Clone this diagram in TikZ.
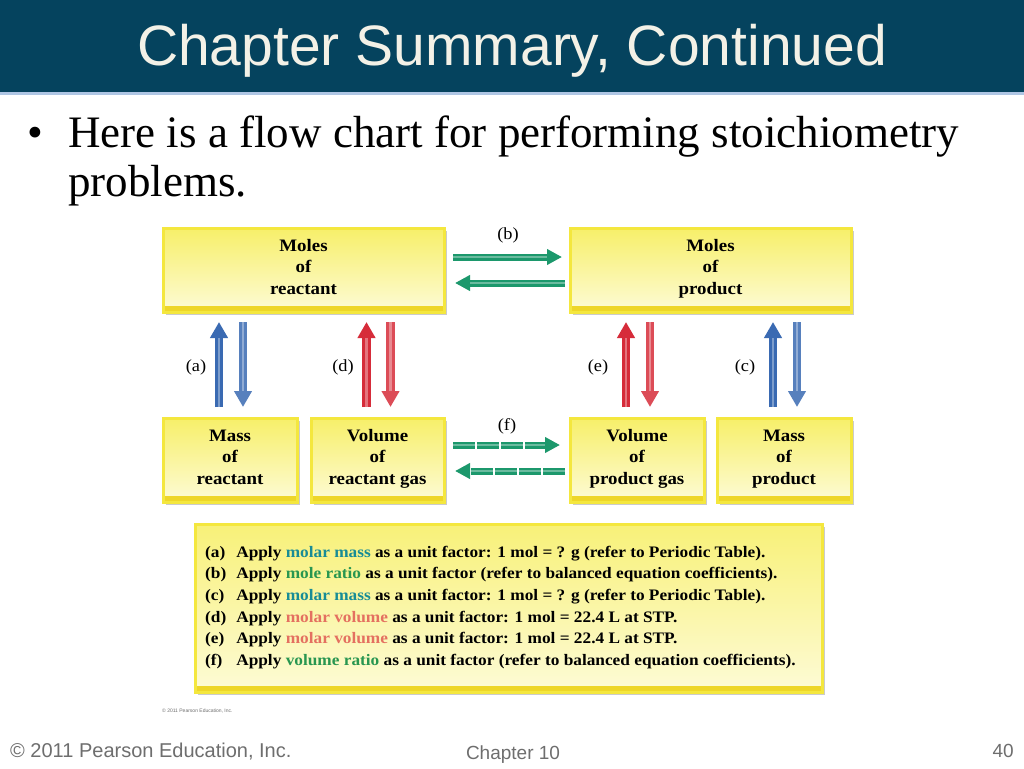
\documentclass[tikz,border=0pt]{standalone}
\usepackage{fontspec}
\setmainfont{Liberation Serif}
\newfontfamily\headfont{Liberation Sans}
\newfontfamily\boxfont[FakeStretch=1.08]{Liberation Serif}
\usetikzlibrary{arrows.meta}
\usetikzlibrary{shadows}
\usetikzlibrary{calc}
\usetikzlibrary{positioning}

\definecolor{band}{RGB}{5,67,94}
\definecolor{bandline}{RGB}{175,198,228}
\definecolor{titletext}{RGB}{243,241,231}
\definecolor{yedge}{RGB}{244,231,62}
\definecolor{ytop}{RGB}{247,239,105}
\definecolor{ybot}{RGB}{253,251,214}
\definecolor{yband}{RGB}{238,214,40}
\definecolor{arrblue}{RGB}{58,106,178}
\definecolor{arrred}{RGB}{214,44,58}
\definecolor{arrgreen}{RGB}{28,152,108}
\definecolor{txtmass}{RGB}{24,140,150}
\definecolor{txtmole}{RGB}{40,150,80}
\definecolor{txtvol}{RGB}{228,112,96}
\definecolor{footgray}{RGB}{110,110,110}

\begin{document}
\begin{tikzpicture}[x=1pt, y=-1pt,
    ybox/.style={inner sep=0pt, outer sep=0pt, align=center,
      minimum height=84pt, top color=ytop, bottom color=ybot,
      draw=yedge, line width=3pt,
      font=\boxfont\bfseries\fontsize{17.5}{21.5}\selectfont,
      execute at begin node=\strut, execute at end node=\strut,
      drop shadow={shadow xshift=3pt, shadow yshift=-3pt, fill=black!45, opacity=.45},
      path picture={\fill[yband] (path picture bounding box.south west)
        rectangle ([yshift=6pt]path picture bounding box.south east);}},
    lab/.style={font=\boxfont\fontsize{17}{20}\selectfont},
    varr/.style={line width=8.5pt, -{Triangle[length=16pt,width=17pt]},
      postaction={draw=white, draw opacity=.35, line width=2.5pt, -, shorten >=16pt}},
    harr/.style={line width=7pt, -{Triangle[length=15pt,width=15pt]},
      postaction={draw=white, draw opacity=.35, line width=2pt, -, shorten >=15pt}},
    dasharr/.style={harr, dash pattern=on 22pt off 2pt},
    bultext/.style={anchor=base west, font=\fontsize{45}{50}\selectfont, inner sep=0pt},
    foot/.style={font=\headfont\fontsize{19}{22}\selectfont, text=footgray, inner sep=0pt}]
  \useasboundingbox (0,0) rectangle (1024,768);
  \fill[white] (0,0) rectangle (1024,768);

  % title band
  \fill[band] (0,0) rectangle (1024,92);
  \fill[bandline] (0,92) rectangle (1024,94.5);
  \node[font=\headfont\fontsize{57}{60}\selectfont, text=titletext] (title) at (512,51)
    {Chapter Summary, Continued};

  \node[bultext] (bul) at (27,147) {\textbullet};
  \node[bultext] (line1) at (68,147) {Here is a flow chart for performing stoichiometry};
  \node[bultext] (line2) at (68,196) {problems.};

  % boxes
  \node[ybox, minimum width=281pt] (mr) at (303.5,270) {Moles\\of\\reactant};
  \node[ybox, minimum width=281pt] (mp) at (710.5,270) {Moles\\of\\product};
  \node[ybox, minimum width=134pt] (mreac) at (230,460) {Mass\\of\\reactant};
  \node[ybox, minimum width=133pt] (vreac) at (377.5,460) {Volume\\of\\reactant gas};
  \node[ybox, minimum width=134pt] (vprod) at (637,460) {Volume\\of\\product gas};
  \node[ybox, minimum width=134pt] (mprod) at (784,460) {Mass\\of\\product};

  % (b) and (f)
  \draw[harr, arrgreen] ($(mr.north east)+(9,29)$) -- ($(mp.north west)+(-8,29)$);
  \draw[harr, arrgreen] ($(mp.north west)+(-5,55)$) -- ($(mr.north east)+(11,55)$);
  \draw[dasharr, arrgreen] ($(vreac.north east)+(9,27)$) -- ($(vprod.north west)+(-10,27)$);
  \draw[dasharr, arrgreen] ($(vprod.north west)+(-5,53)$) -- ($(vreac.north east)+(11,53)$);
  \node[lab] (lb) at (508,235) {(b)};
  \node[lab] (lf) at (507,426) {(f)};

  % (a) (d) (e) (c)
  \draw[varr, arrblue] ($(mreac.north)+(-11,-11)$) -- ($(mreac.north |- mr.south)+(-11,10)$);
  \draw[varr, arrblue!85] ($(mreac.north |- mr.south)+(13,10)$) -- ($(mreac.north)+(13,-11)$);
  \draw[varr, arrred] ($(vreac.north)+(-11,-11)$) -- ($(vreac.north |- mr.south)+(-11,10)$);
  \draw[varr, arrred!85] ($(vreac.north |- mr.south)+(13,10)$) -- ($(vreac.north)+(13,-11)$);
  \draw[varr, arrred] ($(vprod.north)+(-11,-11)$) -- ($(vprod.north |- mp.south)+(-11,10)$);
  \draw[varr, arrred!85] ($(vprod.north |- mp.south)+(13,10)$) -- ($(vprod.north)+(13,-11)$);
  \draw[varr, arrblue] ($(mprod.north)+(-11,-11)$) -- ($(mprod.north |- mp.south)+(-11,10)$);
  \draw[varr, arrblue!85] ($(mprod.north |- mp.south)+(13,10)$) -- ($(mprod.north)+(13,-11)$);
  \node[lab] (la) at (196,367) {(a)};
  \node[lab] (ld) at (343,367) {(d)};
  \node[lab] (le) at (598,367) {(e)};
  \node[lab] (lc) at (745,367) {(c)};

  % key
  \node[ybox, minimum width=627pt, minimum height=168pt, top color=ytop!90, bottom color=ybot] (key) at (508.5,608) {};
  \node[anchor=west, inner sep=0pt, font=\boxfont\bfseries\fontsize{16}{21.6}\selectfont] (keytxt) at (205,607) {%
    \begin{tabular}{@{}l@{\hspace{10pt}}l@{}}
    (a) & Apply \textcolor{txtmass}{molar mass} as a unit factor: 1 mol = ? g (refer to Periodic Table).\\
    (b) & Apply \textcolor{txtmole}{mole ratio} as a unit factor (refer to balanced equation coefficients).\\
    (c) & Apply \textcolor{txtmass}{molar mass} as a unit factor: 1 mol = ? g (refer to Periodic Table).\\
    (d) & Apply \textcolor{txtvol}{molar volume} as a unit factor: 1 mol = 22.4 L at STP.\\
    (e) & Apply \textcolor{txtvol}{molar volume} as a unit factor: 1 mol = 22.4 L at STP.\\
    (f) & Apply \textcolor{txtmole}{volume ratio} as a unit factor (refer to balanced equation coefficients).
    \end{tabular}};
  \node[anchor=west, font=\headfont\fontsize{5}{6}\selectfont, text=footgray, inner sep=0pt] (smallc) at (162,711)
    {\textcopyright\ 2011 Pearson Education, Inc.};

  % footer
  \node[foot, anchor=base west, font=\headfont\fontsize{20}{22}\selectfont] (copy) at (10,757)
    {\textcopyright\ 2011 Pearson Education, Inc.};
  \node[foot, anchor=base] (chap) at (513,759) {Chapter 10};
  \node[foot, anchor=base east] (page) at (1014,757) {40};
\end{tikzpicture}
\end{document}
